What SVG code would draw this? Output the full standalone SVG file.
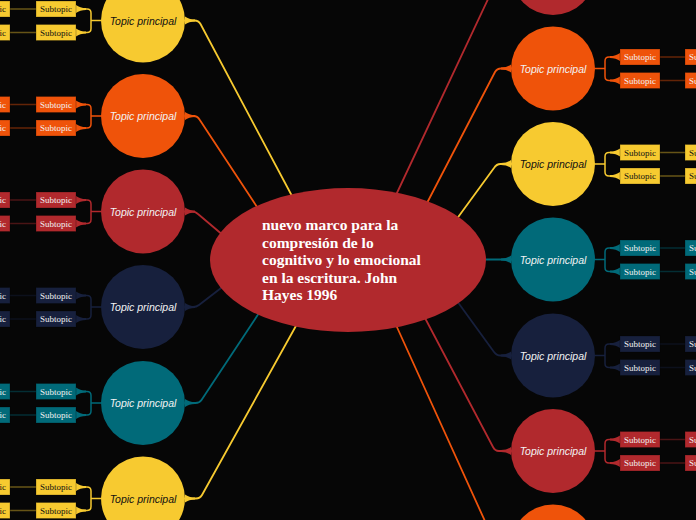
<svg xmlns="http://www.w3.org/2000/svg" xmlns:xlink="http://www.w3.org/1999/xlink" width="696" height="520" viewBox="0 0 696 520">
<style>
.bg{fill:#060606}
.line{fill:none;stroke-width:1.8;stroke-linecap:round;stroke-linejoin:round}
.fork{fill:none;stroke-width:1.5;stroke-linecap:round;stroke-linejoin:round}
.far{stroke-width:1.5;opacity:0.4}
.Y{fill:#F7CA30} .sY{stroke:#F7CA30}
.O{fill:#EF530A} .sO{stroke:#EF530A}
.R{fill:#B1292D} .sR{stroke:#B1292D}
.N{fill:#17203D} .sN{stroke:#17203D}
.T{fill:#016A79} .sT{stroke:#016A79}
.box{stroke:#000;stroke-opacity:0.25;stroke-width:1}
.topic{font-family:"Liberation Sans",Arial,sans-serif;font-style:italic;font-size:10.5px;text-anchor:middle}
.sub{font-family:"Liberation Serif","Times New Roman",serif;font-size:9px;text-anchor:middle}
.dk{fill:#111}
.lt{fill:#f2f2f2}
.main{font-family:"Liberation Serif","Times New Roman",serif;font-weight:bold;font-size:15.5px;fill:#fff}
</style>
<defs>
<path id="fw" d="M0,-4 Q4,-0.9 10,-0.9 V0.9 Q4,0.9 0,4 Z"/>
<path id="fe" d="M0,-4 Q-4,-0.9 -10,-0.9 V0.9 Q-4,0.9 0,4 Z"/>
</defs>
<rect class="bg" x="0" y="0" width="696" height="520"/>

<g id="connectors">
<!-- main connectors left -->
<path class="line sY" d="M292,196 L200.5,24 Q198.5,20.5 194.5,20.5 H186"/>
<path class="line sO" d="M257,207 L199.5,119.5 Q197.5,116 193.5,116 H186"/>
<path class="line sR" d="M224,236 L198,214 Q195.5,211.5 192,211.5 H186"/>
<path class="line sN" d="M225,285 L199,305 Q196.5,307 193,307 H186"/>
<path class="line sT" d="M259,313 L201.5,400 Q199.5,403 195.5,403 H186"/>
<path class="line sY" d="M297,324 L202,495 Q200,498.5 196,498.5 H186"/>
<use xlink:href="#fw" class="Y" x="185" y="20.5"/>
<use xlink:href="#fw" class="O" x="185" y="116"/>
<use xlink:href="#fw" class="R" x="185" y="211.5"/>
<use xlink:href="#fw" class="N" x="185" y="307"/>
<use xlink:href="#fw" class="T" x="185" y="403"/>
<use xlink:href="#fw" class="Y" x="185" y="498.5"/>
<!-- main connectors right -->
<path class="line sR" d="M396,195 L497,-20 Q499.5,-27 504,-27 H511"/>
<path class="line sO" d="M427,203 L495,72 Q497,68.5 501,68.5 H511"/>
<path class="line sY" d="M456,220 L494,168 Q496.5,164 500.5,164 H511"/>
<path class="line sT" d="M480,259.5 H511"/>
<path class="line sN" d="M457,301 L494,352 Q496.5,355.5 500.5,355.5 H511"/>
<path class="line sR" d="M425,318 L493,447 Q495,451 499,451 H511"/>
<path class="line sO" d="M396,325 L494,541 Q496.5,546.5 501,546.5 H511"/>
<use xlink:href="#fe" class="O" x="511" y="68.5"/>
<use xlink:href="#fe" class="Y" x="511" y="164"/>
<use xlink:href="#fe" class="T" x="511" y="259.5"/>
<use xlink:href="#fe" class="N" x="511" y="355.5"/>
<use xlink:href="#fe" class="R" x="511" y="451"/>

<!-- left forks -->
<path class="fork sY" d="M101,20.5 H91 V13 Q91,9 87,9 H80 M91,20.5 V28.5 Q91,32.5 87,32.5 H80"/>
<path class="fork sO" d="M101,116 H91 V108.5 Q91,104.5 87,104.5 H80 M91,116 V124 Q91,128 87,128 H80"/>
<path class="fork sR" d="M101,211.5 H91 V204 Q91,200 87,200 H80 M91,211.5 V219.5 Q91,223.5 87,223.5 H80"/>
<path class="fork sN" d="M101,307 H91 V299.5 Q91,295.5 87,295.5 H80 M91,307 V315 Q91,319 87,319 H80"/>
<path class="fork sT" d="M101,403 H91 V395.5 Q91,391.5 87,391.5 H80 M91,403 V411 Q91,415 87,415 H80"/>
<path class="fork sY" d="M101,498.5 H91 V491 Q91,487 87,487 H80 M91,498.5 V506.5 Q91,510.5 87,510.5 H80"/>
<use xlink:href="#fw" class="Y" x="76" y="9"/><use xlink:href="#fw" class="Y" x="76" y="32.5"/>
<use xlink:href="#fw" class="O" x="76" y="104.5"/><use xlink:href="#fw" class="O" x="76" y="128"/>
<use xlink:href="#fw" class="R" x="76" y="200"/><use xlink:href="#fw" class="R" x="76" y="223.5"/>
<use xlink:href="#fw" class="N" x="76" y="295.5"/><use xlink:href="#fw" class="N" x="76" y="319"/>
<use xlink:href="#fw" class="T" x="76" y="391.5"/><use xlink:href="#fw" class="T" x="76" y="415"/>
<use xlink:href="#fw" class="Y" x="76" y="487"/><use xlink:href="#fw" class="Y" x="76" y="510.5"/>
<!-- left far lines -->
<path class="far sY" d="M10,9 H36 M10,32.5 H36 M10,487 H36 M10,510.5 H36"/>
<path class="far sO" d="M10,104.5 H36 M10,128 H36"/>
<path class="far sR" d="M10,200 H36 M10,223.5 H36"/>
<path class="far sN" d="M10,295.5 H36 M10,319 H36"/>
<path class="far sT" d="M10,391.5 H36 M10,415 H36"/>

<!-- right forks -->
<path class="fork sO" d="M595,68.5 H605 V61 Q605,57 609,57 H616 M605,68.5 V76.5 Q605,80.5 609,80.5 H616"/>
<path class="fork sY" d="M595,164 H605 V156.5 Q605,152.5 609,152.5 H616 M605,164 V172 Q605,176 609,176 H616"/>
<path class="fork sT" d="M595,259.5 H605 V252 Q605,248 609,248 H616 M605,259.5 V267.5 Q605,271.5 609,271.5 H616"/>
<path class="fork sN" d="M595,355.5 H605 V348 Q605,344 609,344 H616 M605,355.5 V363.5 Q605,367.5 609,367.5 H616"/>
<path class="fork sR" d="M595,451 H605 V443.5 Q605,439.5 609,439.5 H616 M605,451 V459 Q605,463 609,463 H616"/>
<use xlink:href="#fe" class="O" x="620" y="57"/><use xlink:href="#fe" class="O" x="620" y="80.5"/>
<use xlink:href="#fe" class="Y" x="620" y="152.5"/><use xlink:href="#fe" class="Y" x="620" y="176"/>
<use xlink:href="#fe" class="T" x="620" y="248"/><use xlink:href="#fe" class="T" x="620" y="271.5"/>
<use xlink:href="#fe" class="N" x="620" y="344"/><use xlink:href="#fe" class="N" x="620" y="367.5"/>
<use xlink:href="#fe" class="R" x="620" y="439.5"/><use xlink:href="#fe" class="R" x="620" y="463"/>
<!-- right far lines -->
<path class="far sO" d="M660,57 H685 M660,80.5 H685"/>
<path class="far sY" d="M660,152.5 H685 M660,176 H685"/>
<path class="far sT" d="M660,248 H685 M660,271.5 H685"/>
<path class="far sN" d="M660,344 H685 M660,367.5 H685"/>
<path class="far sR" d="M660,439.5 H685 M660,463 H685"/>
</g>

<g id="central">
<ellipse class="R" cx="348" cy="260" rx="138" ry="72"/>
<text class="main"><tspan x="262" y="230">nuevo marco para la</tspan><tspan x="262" y="247.5">compresión de lo</tspan><tspan x="262" y="265">cognitivo y lo emocional</tspan><tspan x="262" y="282.5">en la escritura. John</tspan><tspan x="262" y="300">Hayes 1996</tspan></text>
</g>

<!-- Left nodes -->
<g id="topic-l1">
<circle class="Y" cx="143" cy="20.5" r="42"/><text class="topic dk" x="143" y="24.5">Topic principal</text>
<rect class="Y box" x="36" y="1" width="40" height="16"/><text class="sub dk" x="56" y="12">Subtopic</text>
<rect class="Y box" x="36" y="24.5" width="40" height="16"/><text class="sub dk" x="56" y="35.5">Subtopic</text>
<rect class="Y box" x="-30" y="1" width="40" height="16"/><text class="sub dk" x="-10" y="12">Subtopic</text>
<rect class="Y box" x="-30" y="24.5" width="40" height="16"/><text class="sub dk" x="-10" y="35.5">Subtopic</text>
</g>
<g id="topic-l2">
<circle class="O" cx="143" cy="116" r="42"/><text class="topic lt" x="143" y="120">Topic principal</text>
<rect class="O box" x="36" y="96.5" width="40" height="16"/><text class="sub lt" x="56" y="107.5">Subtopic</text>
<rect class="O box" x="36" y="120" width="40" height="16"/><text class="sub lt" x="56" y="131">Subtopic</text>
<rect class="O box" x="-30" y="96.5" width="40" height="16"/><text class="sub lt" x="-10" y="107.5">Subtopic</text>
<rect class="O box" x="-30" y="120" width="40" height="16"/><text class="sub lt" x="-10" y="131">Subtopic</text>
</g>
<g id="topic-l3">
<circle class="R" cx="143" cy="211.5" r="42"/><text class="topic lt" x="143" y="215.5">Topic principal</text>
<rect class="R box" x="36" y="192" width="40" height="16"/><text class="sub lt" x="56" y="203">Subtopic</text>
<rect class="R box" x="36" y="215.5" width="40" height="16"/><text class="sub lt" x="56" y="226.5">Subtopic</text>
<rect class="R box" x="-30" y="192" width="40" height="16"/><text class="sub lt" x="-10" y="203">Subtopic</text>
<rect class="R box" x="-30" y="215.5" width="40" height="16"/><text class="sub lt" x="-10" y="226.5">Subtopic</text>
</g>
<g id="topic-l4">
<circle class="N" cx="143" cy="307" r="42"/><text class="topic lt" x="143" y="311">Topic principal</text>
<rect class="N box" x="36" y="287.5" width="40" height="16"/><text class="sub lt" x="56" y="298.5">Subtopic</text>
<rect class="N box" x="36" y="311" width="40" height="16"/><text class="sub lt" x="56" y="322">Subtopic</text>
<rect class="N box" x="-30" y="287.5" width="40" height="16"/><text class="sub lt" x="-10" y="298.5">Subtopic</text>
<rect class="N box" x="-30" y="311" width="40" height="16"/><text class="sub lt" x="-10" y="322">Subtopic</text>
</g>
<g id="topic-l5">
<circle class="T" cx="143" cy="403" r="42"/><text class="topic lt" x="143" y="407">Topic principal</text>
<rect class="T box" x="36" y="383.5" width="40" height="16"/><text class="sub lt" x="56" y="394.5">Subtopic</text>
<rect class="T box" x="36" y="407" width="40" height="16"/><text class="sub lt" x="56" y="418">Subtopic</text>
<rect class="T box" x="-30" y="383.5" width="40" height="16"/><text class="sub lt" x="-10" y="394.5">Subtopic</text>
<rect class="T box" x="-30" y="407" width="40" height="16"/><text class="sub lt" x="-10" y="418">Subtopic</text>
</g>
<g id="topic-l6">
<circle class="Y" cx="143" cy="498.5" r="42"/><text class="topic dk" x="143" y="502.5">Topic principal</text>
<rect class="Y box" x="36" y="479" width="40" height="16"/><text class="sub dk" x="56" y="490">Subtopic</text>
<rect class="Y box" x="36" y="502.5" width="40" height="16"/><text class="sub dk" x="56" y="513.5">Subtopic</text>
<rect class="Y box" x="-30" y="479" width="40" height="16"/><text class="sub dk" x="-10" y="490">Subtopic</text>
<rect class="Y box" x="-30" y="502.5" width="40" height="16"/><text class="sub dk" x="-10" y="513.5">Subtopic</text>
</g>

<!-- Right nodes -->
<g id="topic-r1">
<circle class="R" cx="553" cy="-27" r="42"/>
</g>
<g id="topic-r2">
<circle class="O" cx="553" cy="68.5" r="42"/><text class="topic lt" x="553" y="72.5">Topic principal</text>
<rect class="O box" x="620" y="49" width="40" height="16"/><text class="sub lt" x="640" y="60">Subtopic</text>
<rect class="O box" x="620" y="72.5" width="40" height="16"/><text class="sub lt" x="640" y="83.5">Subtopic</text>
<rect class="O box" x="685" y="49" width="40" height="16"/><text class="sub lt" x="705" y="60">Subtopic</text>
<rect class="O box" x="685" y="72.5" width="40" height="16"/><text class="sub lt" x="705" y="83.5">Subtopic</text>
</g>
<g id="topic-r3">
<circle class="Y" cx="553" cy="164" r="42"/><text class="topic dk" x="553" y="168">Topic principal</text>
<rect class="Y box" x="620" y="144.5" width="40" height="16"/><text class="sub dk" x="640" y="155.5">Subtopic</text>
<rect class="Y box" x="620" y="168" width="40" height="16"/><text class="sub dk" x="640" y="179">Subtopic</text>
<rect class="Y box" x="685" y="144.5" width="40" height="16"/><text class="sub dk" x="705" y="155.5">Subtopic</text>
<rect class="Y box" x="685" y="168" width="40" height="16"/><text class="sub dk" x="705" y="179">Subtopic</text>
</g>
<g id="topic-r4">
<circle class="T" cx="553" cy="259.5" r="42"/><text class="topic lt" x="553" y="263.5">Topic principal</text>
<rect class="T box" x="620" y="240" width="40" height="16"/><text class="sub lt" x="640" y="251">Subtopic</text>
<rect class="T box" x="620" y="263.5" width="40" height="16"/><text class="sub lt" x="640" y="274.5">Subtopic</text>
<rect class="T box" x="685" y="240" width="40" height="16"/><text class="sub lt" x="705" y="251">Subtopic</text>
<rect class="T box" x="685" y="263.5" width="40" height="16"/><text class="sub lt" x="705" y="274.5">Subtopic</text>
</g>
<g id="topic-r5">
<circle class="N" cx="553" cy="355.5" r="42"/><text class="topic lt" x="553" y="359.5">Topic principal</text>
<rect class="N box" x="620" y="336" width="40" height="16"/><text class="sub lt" x="640" y="347">Subtopic</text>
<rect class="N box" x="620" y="359.5" width="40" height="16"/><text class="sub lt" x="640" y="370.5">Subtopic</text>
<rect class="N box" x="685" y="336" width="40" height="16"/><text class="sub lt" x="705" y="347">Subtopic</text>
<rect class="N box" x="685" y="359.5" width="40" height="16"/><text class="sub lt" x="705" y="370.5">Subtopic</text>
</g>
<g id="topic-r6">
<circle class="R" cx="553" cy="451" r="42"/><text class="topic lt" x="553" y="455">Topic principal</text>
<rect class="R box" x="620" y="431.5" width="40" height="16"/><text class="sub lt" x="640" y="442.5">Subtopic</text>
<rect class="R box" x="620" y="455" width="40" height="16"/><text class="sub lt" x="640" y="466">Subtopic</text>
<rect class="R box" x="685" y="431.5" width="40" height="16"/><text class="sub lt" x="705" y="442.5">Subtopic</text>
<rect class="R box" x="685" y="455" width="40" height="16"/><text class="sub lt" x="705" y="466">Subtopic</text>
</g>
<g id="topic-r7">
<circle class="O" cx="553" cy="546.5" r="42"/>
</g>
</svg>
